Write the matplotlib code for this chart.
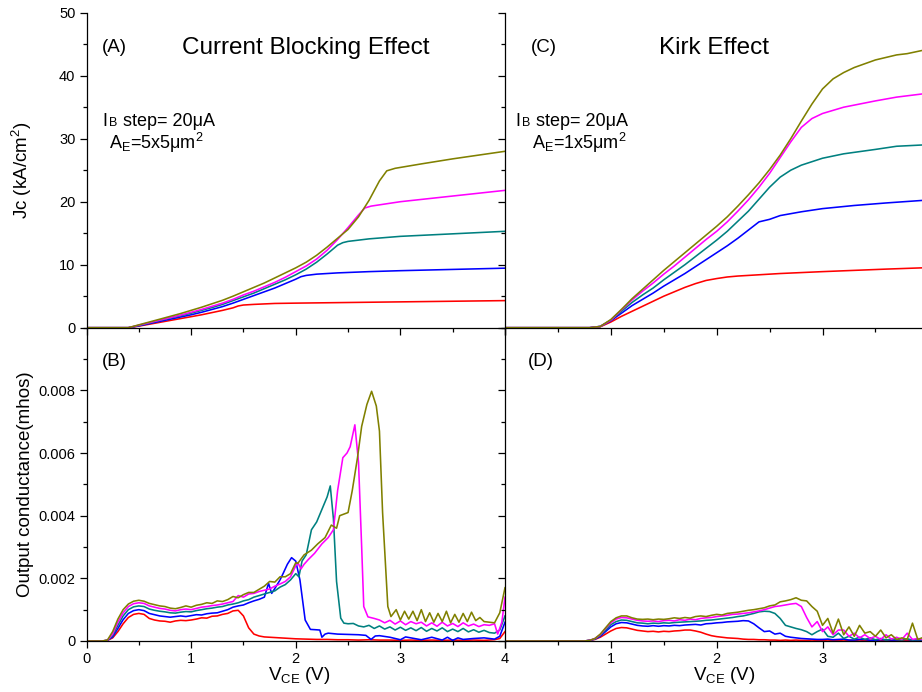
import numpy as np
import matplotlib
matplotlib.use('Agg')
import matplotlib.pyplot as plt
from matplotlib.ticker import MultipleLocator, FixedLocator, FuncFormatter
from matplotlib.transforms import offset_copy

plt.rcParams['font.family'] = ['Liberation Sans', 'DejaVu Sans']
plt.rcParams['mathtext.fontset'] = 'custom'
plt.rcParams['mathtext.rm'] = 'Liberation Sans'
plt.rcParams['mathtext.it'] = 'Liberation Sans:italic'
plt.rcParams['mathtext.bf'] = 'Liberation Sans:bold'

COLORS = ['#FF0000', '#0000FF', '#008080', '#FF00FF', '#808000']

# ---------------- Panel A : Jc (kA/cm2) vs VCE, 5x5 um2 ----------------
VA_RED = [0, 0.4, 0.5, 0.6, 0.7, 0.8, 0.9, 1.0, 1.1, 1.2, 1.3, 1.4, 1.45, 1.5, 1.6, 1.8, 2.0, 2.5, 3.0, 3.5, 4.0]
JA_RED = [0, 0, 0.25, 0.55, 0.85, 1.15, 1.45, 1.75, 2.05, 2.4, 2.75, 3.15, 3.45, 3.6, 3.7, 3.85, 3.9, 4.0, 4.1, 4.2, 4.3]
VA_BLUE = [0, 0.4, 0.5, 0.6, 0.7, 0.8, 0.9, 1.0, 1.1, 1.2, 1.3, 1.4, 1.5, 1.6, 1.7, 1.8, 1.9, 2.0, 2.05, 2.1, 2.2, 2.4, 2.7, 3.0, 3.5, 4.0]
JA_BLUE = [0, 0, 0.3, 0.65, 1.0, 1.35, 1.7, 2.05, 2.45, 2.9, 3.35, 3.9, 4.5, 5.1, 5.7, 6.3, 7.0, 7.7, 8.1, 8.3, 8.5, 8.7, 8.9, 9.05, 9.25, 9.45]
VA_TEAL = [0, 0.4, 0.5, 0.6, 0.7, 0.8, 0.9, 1.0, 1.1, 1.2, 1.3, 1.4, 1.5, 1.6, 1.7, 1.8, 1.9, 2.0, 2.1, 2.2, 2.3, 2.4, 2.45, 2.5, 2.7, 3.0, 3.5, 4.0]
JA_TEAL = [0, 0, 0.35, 0.75, 1.15, 1.55, 1.9, 2.3, 2.75, 3.2, 3.7, 4.3, 4.9, 5.5, 6.2, 6.9, 7.6, 8.4, 9.3, 10.4, 11.7, 13.1, 13.5, 13.7, 14.1, 14.5, 14.9, 15.3]
VA_MAG = [0, 0.4, 0.5, 0.6, 0.7, 0.8, 0.9, 1.0, 1.1, 1.2, 1.3, 1.4, 1.5, 1.6, 1.7, 1.8, 1.9, 2.0, 2.1, 2.2, 2.3, 2.4, 2.5, 2.6, 2.66, 2.72, 3.0, 3.5, 4.0]
JA_MAG = [0, 0, 0.4, 0.8, 1.2, 1.6, 2.0, 2.45, 2.9, 3.4, 3.9, 4.5, 5.2, 5.8, 6.5, 7.2, 8.0, 8.9, 9.8, 10.9, 12.3, 14.0, 15.9, 17.9, 19.0, 19.3, 20.0, 20.9, 21.8]
VA_OLV = [0, 0.4, 0.5, 0.6, 0.7, 0.8, 0.9, 1.0, 1.1, 1.2, 1.3, 1.4, 1.5, 1.6, 1.7, 1.8, 1.9, 2.0, 2.1, 2.2, 2.3, 2.4, 2.5, 2.6, 2.7, 2.8, 2.87, 2.95, 3.2, 3.5, 4.0]
JA_OLV = [0, 0, 0.45, 0.9, 1.35, 1.8, 2.25, 2.75, 3.25, 3.8, 4.35, 5.0, 5.7, 6.4, 7.1, 7.9, 8.7, 9.5, 10.4, 11.5, 12.8, 14.2, 15.6, 17.6, 20.2, 23.3, 24.9, 25.3, 26.0, 26.8, 28.0]

# ---------------- Panel C : Jc vs VCE, 1x5 um2 ----------------
VC_RED = [0, 0.8, 0.9, 1.0, 1.1, 1.2, 1.3, 1.4, 1.5, 1.6, 1.7, 1.8, 1.9, 2.0, 2.1, 2.2, 2.4, 2.6, 2.8, 3.0, 3.3, 3.6, 3.94]
JC_RED = [0, 0, 0.15, 0.9, 1.8, 2.6, 3.4, 4.2, 5.0, 5.7, 6.4, 7.0, 7.5, 7.8, 8.05, 8.2, 8.4, 8.6, 8.75, 8.9, 9.1, 9.3, 9.5]
VC_BLUE = [0, 0.8, 0.9, 1.0, 1.1, 1.2, 1.3, 1.4, 1.5, 1.6, 1.7, 1.8, 1.9, 2.0, 2.1, 2.2, 2.3, 2.4, 2.5, 2.6, 2.8, 3.0, 3.3, 3.6, 3.94]
JC_BLUE = [0, 0, 0.2, 1.1, 2.3, 3.5, 4.5, 5.5, 6.6, 7.6, 8.6, 9.7, 10.8, 11.9, 13.0, 14.2, 15.5, 16.8, 17.2, 17.8, 18.4, 18.9, 19.4, 19.8, 20.2]
VC_TEAL = [0, 0.8, 0.9, 1.0, 1.1, 1.2, 1.3, 1.4, 1.5, 1.6, 1.7, 1.8, 1.9, 2.0, 2.1, 2.2, 2.3, 2.4, 2.5, 2.6, 2.7, 2.8, 3.0, 3.2, 3.5, 3.7, 3.94]
JC_TEAL = [0, 0, 0.2, 1.2, 2.6, 4.0, 5.2, 6.3, 7.6, 8.8, 10.0, 11.3, 12.6, 13.9, 15.3, 16.9, 18.5, 20.4, 22.3, 23.9, 25.0, 25.8, 26.9, 27.6, 28.3, 28.8, 29.0]
VC_MAG = [0, 0.8, 0.9, 1.0, 1.1, 1.2, 1.3, 1.4, 1.5, 1.6, 1.7, 1.8, 1.9, 2.0, 2.1, 2.2, 2.3, 2.4, 2.5, 2.6, 2.7, 2.8, 2.9, 3.0, 3.2, 3.5, 3.7, 3.94]
JC_MAG = [0, 0, 0.2, 1.2, 2.8, 4.4, 5.8, 7.1, 8.5, 9.8, 11.2, 12.6, 14.0, 15.3, 16.8, 18.5, 20.3, 22.3, 24.5, 27.0, 29.5, 31.8, 33.2, 34.0, 35.0, 36.0, 36.6, 37.1]
VC_OLV = [0, 0.8, 0.9, 1.0, 1.1, 1.2, 1.3, 1.4, 1.5, 1.6, 1.7, 1.8, 1.9, 2.0, 2.1, 2.2, 2.3, 2.4, 2.5, 2.6, 2.7, 2.8, 2.9, 3.0, 3.1, 3.2, 3.3, 3.4, 3.5, 3.6, 3.7, 3.8, 3.94]
JC_OLV = [0, 0, 0.2, 1.3, 2.9, 4.6, 6.1, 7.6, 9.1, 10.5, 11.9, 13.3, 14.7, 16.1, 17.6, 19.3, 21.1, 23.0, 25.1, 27.4, 30.0, 32.8, 35.5, 37.9, 39.5, 40.5, 41.3, 41.9, 42.5, 42.9, 43.3, 43.5, 44.0]

# ---------------- Panel B : output conductance (mmho) 5x5 um2 ----------------
VB_LOW = [0.0, 0.05, 0.1, 0.15, 0.2, 0.25, 0.3, 0.35, 0.4, 0.45, 0.5, 0.55, 0.6, 0.65, 0.7, 0.75,
          0.8, 0.85, 0.9, 0.95, 1.0, 1.05, 1.1, 1.15, 1.2, 1.25, 1.3, 1.35, 1.4, 1.45, 1.5, 1.55, 1.6, 1.65]
GB_RED_LOW = [0, 0, 0, 0, 0.02, 0.10, 0.30, 0.55, 0.75, 0.85,
              0.88, 0.85, 0.72, 0.67, 0.64, 0.63, 0.60, 0.64, 0.66, 0.65,
              0.67, 0.70, 0.74, 0.73, 0.79, 0.80, 0.85, 0.88, 0.96, 0.98,
              0.80, 0.42, 0.22, 0.16]
VB_RED_TAIL = [1.7, 1.8, 1.9, 2.0, 2.1, 2.2, 2.3, 2.4, 2.5, 2.6, 2.7, 2.8, 2.9, 3.0, 3.1, 3.2, 3.3, 3.4,
               3.5, 3.6, 3.7, 3.8, 3.9, 3.95, 4.0]
GB_RED_TAIL = [0.13, 0.11, 0.09, 0.07, 0.06, 0.05, 0.05, 0.04, 0.04, 0.03, 0.04, 0.03, 0.03, 0.02, 0.03,
               0.02, 0.03, 0.02, 0.03, 0.02, 0.03, 0.02, 0.04, 0.08, 0.30]
GB_BLUE_LOW = [0, 0, 0, 0, 0.02, 0.13, 0.40, 0.68, 0.88, 0.97,
               1.00, 0.97, 0.88, 0.84, 0.80, 0.78, 0.76, 0.78, 0.80, 0.78,
               0.81, 0.84, 0.83, 0.87, 0.89, 0.90, 0.95, 1.00, 1.08, 1.12,
               1.15, 1.22, 1.28, 1.33]
VB_BLUE_TAIL = [1.70, 1.74, 1.77, 1.81, 1.85, 1.88, 1.92, 1.96, 2.00, 2.04, 2.09, 2.14, 2.19, 2.23,
                2.25, 2.28, 2.31, 2.40, 2.50, 2.60, 2.67, 2.72, 2.76, 2.80, 2.90, 3.00, 3.05, 3.10,
                3.20, 3.30, 3.40, 3.45, 3.50, 3.55, 3.60, 3.70, 3.80, 3.90, 3.95, 4.00]
GB_BLUE_TAIL = [1.40, 1.84, 1.52, 1.73, 1.95, 2.16, 2.45, 2.66, 2.55, 1.95,
                0.67, 0.37, 0.36, 0.35, 0.12, 0.22, 0.25, 0.22, 0.21, 0.20,
                0.18, 0.05, 0.16, 0.17, 0.12, 0.04, 0.13, 0.10, 0.04, 0.12,
                0.03, 0.12, 0.02, 0.10, 0.05, 0.08, 0.10, 0.06, 0.15, 0.60]
GB_TEAL_LOW = [0, 0, 0, 0, 0.02, 0.18, 0.50, 0.80, 1.00, 1.09,
               1.12, 1.10, 1.02, 0.98, 0.95, 0.93, 0.90, 0.89, 0.92, 0.94,
               0.93, 0.97, 1.00, 1.03, 1.05, 1.08, 1.10, 1.15, 1.18, 1.22,
               1.28, 1.32, 1.40, 1.45]
VB_TEAL_TAIL = [1.70, 1.75, 1.80, 1.85, 1.90, 1.95, 2.00, 2.03, 2.06, 2.10, 2.15, 2.20, 2.25, 2.30,
                2.33, 2.36, 2.39, 2.43, 2.46, 2.50, 2.55, 2.60, 2.65, 2.70, 2.75, 2.80, 2.85, 2.90,
                2.95, 3.00, 3.05, 3.10, 3.15, 3.20, 3.25, 3.30, 3.35, 3.40, 3.45, 3.50, 3.55, 3.60,
                3.65, 3.70, 3.75, 3.80, 3.85, 3.90, 3.95, 4.00]
GB_TEAL_TAIL = [1.50, 1.55, 1.60, 1.72, 1.80, 1.95, 2.15, 2.05, 2.55, 2.75,
                3.55, 3.80, 4.20, 4.60, 4.95, 3.90, 1.90, 0.73, 0.57, 0.55,
                0.56, 0.48, 0.45, 0.50, 0.40, 0.48, 0.38, 0.45, 0.35, 0.44,
                0.34, 0.42, 0.33, 0.43, 0.31, 0.40, 0.32, 0.42, 0.30, 0.38,
                0.30, 0.40, 0.29, 0.36, 0.28, 0.34, 0.27, 0.25, 0.35, 0.80]
GB_MAG_LOW = [0, 0, 0, 0, 0.02, 0.22, 0.60, 0.90, 1.10, 1.19,
              1.22, 1.20, 1.12, 1.08, 1.04, 1.02, 0.98, 0.96, 1.00, 1.02,
              1.00, 1.04, 1.08, 1.10, 1.13, 1.15, 1.18, 1.22, 1.26, 1.45,
              1.40, 1.50, 1.52, 1.58]
VB_MAG_TAIL = [1.70, 1.75, 1.80, 1.85, 1.90, 1.95, 2.00, 2.02, 2.05, 2.08, 2.12, 2.18, 2.25, 2.31,
               2.36, 2.40, 2.45, 2.49, 2.52, 2.565, 2.60, 2.63, 2.65, 2.69, 2.75, 2.80, 2.85, 2.90,
               2.95, 3.00, 3.05, 3.10, 3.15, 3.20, 3.25, 3.30, 3.35, 3.40, 3.45, 3.50, 3.55, 3.60,
               3.65, 3.70, 3.75, 3.80, 3.85, 3.90, 3.93, 3.97, 4.00]
GB_MAG_TAIL = [1.62, 1.66, 1.75, 1.82, 1.90, 2.05, 2.40, 2.50, 2.30, 2.45,
               2.60, 2.80, 3.10, 3.30, 3.55, 4.80, 5.85, 6.00, 6.20, 6.90,
               5.70, 3.00, 1.10, 0.77, 0.72, 0.67, 0.58, 0.66, 0.54, 0.64,
               0.52, 0.62, 0.55, 0.60, 0.48, 0.58, 0.47, 0.60, 0.48, 0.56,
               0.46, 0.58, 0.48, 0.54, 0.46, 0.52, 0.50, 0.55, 0.22, 0.60, 1.40]
GB_OLV_LOW = [0, 0, 0, 0, 0.03, 0.30, 0.70, 1.00, 1.18, 1.27,
              1.30, 1.27, 1.20, 1.16, 1.12, 1.10, 1.05, 1.03, 1.07, 1.12,
              1.08, 1.14, 1.17, 1.22, 1.20, 1.28, 1.26, 1.32, 1.42, 1.38,
              1.48, 1.55, 1.55, 1.65]
VB_OLV_TAIL = [1.70, 1.75, 1.80, 1.85, 1.90, 1.95, 2.00, 2.02, 2.08, 2.15, 2.21, 2.28, 2.34, 2.39,
               2.42, 2.46, 2.50, 2.54, 2.59, 2.63, 2.68, 2.725, 2.77, 2.80, 2.83, 2.88, 2.91, 2.96,
               3.00, 3.04, 3.08, 3.12, 3.16, 3.20, 3.24, 3.28, 3.32, 3.36, 3.40, 3.44, 3.48, 3.52,
               3.56, 3.60, 3.64, 3.68, 3.72, 3.76, 3.80, 3.85, 3.90, 3.95, 4.00]
GB_OLV_TAIL = [1.75, 1.90, 1.88, 2.05, 2.05, 2.15, 2.50, 2.48, 2.75, 2.90,
               3.10, 3.30, 3.70, 3.60, 4.00, 4.05, 4.10, 4.80, 5.85, 6.85,
               7.55, 7.97, 7.50, 6.70, 4.10, 1.10, 0.78, 1.00, 0.67, 0.95,
               0.70, 0.95, 0.65, 1.00, 0.62, 0.90, 0.60, 0.88, 0.62, 0.95,
               0.58, 0.85, 0.60, 0.88, 0.62, 0.92, 0.65, 0.75, 0.62, 0.60,
               0.58, 0.90, 1.70]

# ---------------- Panel D : output conductance (mmho) 1x5 um2 ----------------
VD = [0, 0.75, 0.80, 0.85, 0.90, 0.95, 1.00, 1.05, 1.10, 1.15,
      1.20, 1.25, 1.30, 1.35, 1.40, 1.45, 1.50, 1.55, 1.60, 1.65,
      1.70, 1.75, 1.80, 1.85, 1.90, 1.95, 2.00, 2.05, 2.10, 2.15,
      2.20, 2.25, 2.30, 2.35, 2.40, 2.45, 2.50, 2.55, 2.60, 2.65,
      2.70, 2.75, 2.80, 2.85, 2.90, 2.95, 3.00, 3.05, 3.10, 3.15,
      3.20, 3.25, 3.30, 3.35, 3.40, 3.45, 3.50, 3.55, 3.60, 3.65,
      3.70, 3.75, 3.80, 3.85, 3.90, 3.94]
GD_RED = [0, 0, 0.02, 0.05, 0.12, 0.22, 0.32, 0.40, 0.43, 0.42,
          0.38, 0.34, 0.32, 0.30, 0.31, 0.29, 0.31, 0.30, 0.32, 0.33,
          0.35, 0.35, 0.32, 0.28, 0.22, 0.17, 0.14, 0.12, 0.10, 0.09,
          0.08, 0.06, 0.05, 0.05, 0.04, 0.04, 0.03, 0.03, 0.02, 0.03,
          0.02, 0.03, 0.02, 0.02, 0.03, 0.02, 0.02, 0.03, 0.02, 0.02,
          0.03, 0.02, 0.02, 0.03, 0.02, 0.02, 0.03, 0.02, 0.02, 0.02,
          0.03, 0.02, 0.02, 0.02, 0.03, 0.02]
GD_BLUE = [0, 0, 0.02, 0.06, 0.15, 0.30, 0.45, 0.55, 0.59, 0.58,
           0.54, 0.50, 0.48, 0.47, 0.49, 0.47, 0.49, 0.48, 0.50, 0.49,
           0.51, 0.52, 0.53, 0.51, 0.55, 0.56, 0.58, 0.59, 0.61, 0.62,
           0.63, 0.65, 0.64, 0.55, 0.42, 0.30, 0.32, 0.22, 0.25, 0.15,
           0.12, 0.10, 0.08, 0.07, 0.06, 0.05, 0.05, 0.06, 0.04, 0.05,
           0.06, 0.03, 0.03, 0.05, 0.05, 0.02, 0.02, 0.04, 0.04, 0.03,
           0.03, 0.05, 0.05, 0.03, 0.03, 0.03]
GD_TEAL = [0, 0, 0.02, 0.07, 0.18, 0.35, 0.52, 0.62, 0.67, 0.66,
           0.62, 0.58, 0.57, 0.55, 0.57, 0.56, 0.58, 0.57, 0.59, 0.60,
           0.61, 0.62, 0.63, 0.64, 0.66, 0.67, 0.69, 0.71, 0.73, 0.75,
           0.78, 0.80, 0.84, 0.88, 0.93, 0.95, 0.94, 0.88, 0.72, 0.50,
           0.45, 0.40, 0.36, 0.30, 0.20, 0.30, 0.38, 0.15, 0.12, 0.25,
           0.08, 0.15, 0.06, 0.12, 0.05, 0.10, 0.04, 0.08, 0.03, 0.06,
           0.05, 0.03, 0.07, 0.03, 0.04, 0.04]
GD_MAG = [0, 0, 0.02, 0.08, 0.20, 0.40, 0.58, 0.70, 0.75, 0.74,
          0.70, 0.66, 0.64, 0.63, 0.64, 0.62, 0.65, 0.66, 0.64, 0.68,
          0.66, 0.70, 0.68, 0.72, 0.74, 0.75, 0.78, 0.80, 0.82, 0.85,
          0.86, 0.88, 0.90, 0.93, 0.96, 1.00, 1.05, 1.10, 1.12, 1.15,
          1.18, 1.20, 1.10, 0.75, 0.45, 0.62, 0.30, 0.45, 0.20, 0.35,
          0.35, 0.15, 0.25, 0.10, 0.20, 0.08, 0.15, 0.05, 0.20, 0.06,
          0.12, 0.05, 0.25, 0.05, 0.08, 0.05]
GD_OLV = [0, 0, 0.02, 0.08, 0.22, 0.42, 0.62, 0.74, 0.80, 0.80,
          0.74, 0.70, 0.69, 0.70, 0.68, 0.70, 0.69, 0.71, 0.74, 0.72,
          0.75, 0.73, 0.78, 0.80, 0.78, 0.82, 0.85, 0.83, 0.88, 0.90,
          0.92, 0.95, 0.98, 1.00, 1.03, 1.06, 1.12, 1.15, 1.25, 1.28,
          1.32, 1.38, 1.30, 1.28, 1.10, 0.95, 0.50, 0.72, 0.25, 0.70,
          0.20, 0.45, 0.15, 0.50, 0.25, 0.30, 0.15, 0.35, 0.10, 0.20,
          0.05, 0.10, 0.05, 0.57, 0.05, 0.10]

MMHO = 1e-3

# ---------------- Figure / layout ----------------
W, H = 922, 692
fig = plt.figure(figsize=(W / 100, H / 100), dpi=100)
xl0, xlw = 86.5 / W, (505 - 86.5) / W
xr0, xrw = 505 / W, 417 / W
yt0, yth = (H - 327.7) / H, 315.0 / H
yb0, ybh = (H - 641.0) / H, 313.3 / H

axA = fig.add_axes([xl0, yt0, xlw, yth])
axC = fig.add_axes([xr0, yt0, xrw, yth])
axB = fig.add_axes([xl0, yb0, xlw, ybh])
axD = fig.add_axes([xr0, yb0, xrw, ybh])

LW = 1.15


def style(ax, xmax, ymax, ymaj, ymajticks, fmt):
    ax.set_xlim(0, xmax)
    ax.set_ylim(0, ymax)
    for s in ['top', 'right']:
        ax.spines[s].set_visible(False)
    for s in ['left', 'bottom']:
        ax.spines[s].set_linewidth(0.9)
    ax.xaxis.set_major_locator(MultipleLocator(1))
    ax.xaxis.set_minor_locator(MultipleLocator(0.5))
    ax.yaxis.set_major_locator(FixedLocator(ymajticks))
    ax.yaxis.set_minor_locator(MultipleLocator(ymaj / 2))
    ax.yaxis.set_major_formatter(FuncFormatter(fmt))
    ax.tick_params(which='major', direction='out', length=5, width=0.9, labelsize=10.5, pad=3)
    ax.tick_params(which='minor', direction='out', length=3, width=0.9)
    ax.set_facecolor('none')


fmtJ = lambda v, p: '%d' % round(v)
fmtG = lambda v, p: '0' if abs(v) < 1e-12 else '%.3f' % v

style(axA, 4, 50, 10, [0, 10, 20, 30, 40, 50], fmtJ)
style(axC, 3.94, 50, 10, [0, 10, 20, 30, 40, 50], fmtJ)
style(axB, 4, 0.010, 0.002, [0, 0.002, 0.004, 0.006, 0.008], fmtG)
style(axD, 3.94, 0.010, 0.002, [0, 0.002, 0.004, 0.006, 0.008], fmtG)

axA.tick_params(labelbottom=False)
axC.tick_params(labelbottom=False, labelleft=False)
axD.tick_params(labelleft=False)
axD.xaxis.set_major_formatter(FuncFormatter(lambda v, p: '' if abs(v) < 1e-9 else '%d' % round(v)))

# ---------------- curves ----------------
A_SETS = [(VA_RED, JA_RED), (VA_BLUE, JA_BLUE), (VA_TEAL, JA_TEAL), (VA_MAG, JA_MAG), (VA_OLV, JA_OLV)]
C_SETS = [(VC_RED, JC_RED), (VC_BLUE, JC_BLUE), (VC_TEAL, JC_TEAL), (VC_MAG, JC_MAG), (VC_OLV, JC_OLV)]
B_SETS = [(VB_LOW + VB_RED_TAIL, GB_RED_LOW + GB_RED_TAIL),
          (VB_LOW + VB_BLUE_TAIL, GB_BLUE_LOW + GB_BLUE_TAIL),
          (VB_LOW + VB_TEAL_TAIL, GB_TEAL_LOW + GB_TEAL_TAIL),
          (VB_LOW + VB_MAG_TAIL, GB_MAG_LOW + GB_MAG_TAIL),
          (VB_LOW + VB_OLV_TAIL, GB_OLV_LOW + GB_OLV_TAIL)]
D_SETS = [(VD, GD_RED), (VD, GD_BLUE), (VD, GD_TEAL), (VD, GD_MAG), (VD, GD_OLV)]

for (x, y), c in zip(A_SETS, COLORS):
    axA.plot(x, y, color=c, lw=LW, clip_on=True)
for (x, y), c in zip(C_SETS, COLORS):
    axC.plot(x, y, color=c, lw=LW, clip_on=True)
for (x, y), c in zip(B_SETS, COLORS):
    axB.plot(x, np.array(y) * MMHO, color=c, lw=LW, clip_on=True)
for (x, y), c in zip(D_SETS, COLORS):
    axD.plot(x, np.array(y) * MMHO, color=c, lw=LW, clip_on=True)

# ---------------- labels ----------------
axA.set_ylabel('Jc (kA/cm$^{\\mathregular{2}}$)', fontsize=13.5)
axB.set_ylabel('Output conductance(mhos)', fontsize=13.5)
axA.yaxis.set_label_coords(-0.125, 0.5)
axB.yaxis.set_label_coords(-0.125, 0.5)
axB.set_xlabel('V$_{\\mathregular{CE}}$ (V)', fontsize=13.5)
axD.set_xlabel('V$_{\\mathregular{CE}}$ (V)', fontsize=13.5)
axB.xaxis.set_label_coords(0.508, -0.078)
axD.xaxis.set_label_coords(0.525, -0.078)

axA.text(0.036, 0.875, '(A)', transform=axA.transAxes, fontsize=13.5, va='baseline')
axA.text(0.525, 0.869, 'Current Blocking Effect', transform=axA.transAxes, fontsize=17.5,
         va='baseline', ha='center')
axC.text(0.062, 0.875, '(C)', transform=axC.transAxes, fontsize=13.5, va='baseline')
axC.text(0.500, 0.869, 'Kirk Effect', transform=axC.transAxes, fontsize=17.5,
         va='baseline', ha='center')
axB.text(0.036, 0.878, '(B)', transform=axB.transAxes, fontsize=13.5, va='baseline')
axD.text(0.055, 0.878, '(D)', transform=axD.transAxes, fontsize=13.5, va='baseline')

fig.canvas.draw()
renderer = fig.canvas.get_renderer()


def chain(ax, x, y, pieces):
    dx = 0.0
    for s, size, gap in pieces:
        dx += gap
        tr = offset_copy(ax.transAxes, fig=fig, x=dx, y=0, units='dots')
        t = ax.text(x, y, s, transform=tr, fontsize=size, va='baseline', ha='left')
        dx += t.get_window_extent(renderer).width


IB_PIECES = [('I', 13, 0), ('B', 9, 1.5), ('step= 20μA', 13, 5.0)]
chain(axA, 0.039, 0.640, IB_PIECES)
chain(axC, 0.026, 0.640, IB_PIECES)
axA.text(0.054, 0.566, 'A$_{\\mathregular{E}}$=5x5μm$^{\\mathregular{2}}$', transform=axA.transAxes,
         fontsize=13, va='baseline')
axC.text(0.064, 0.566, 'A$_{\\mathregular{E}}$=1x5μm$^{\\mathregular{2}}$', transform=axC.transAxes,
         fontsize=13, va='baseline')

fig.savefig('out.png', dpi=100)
